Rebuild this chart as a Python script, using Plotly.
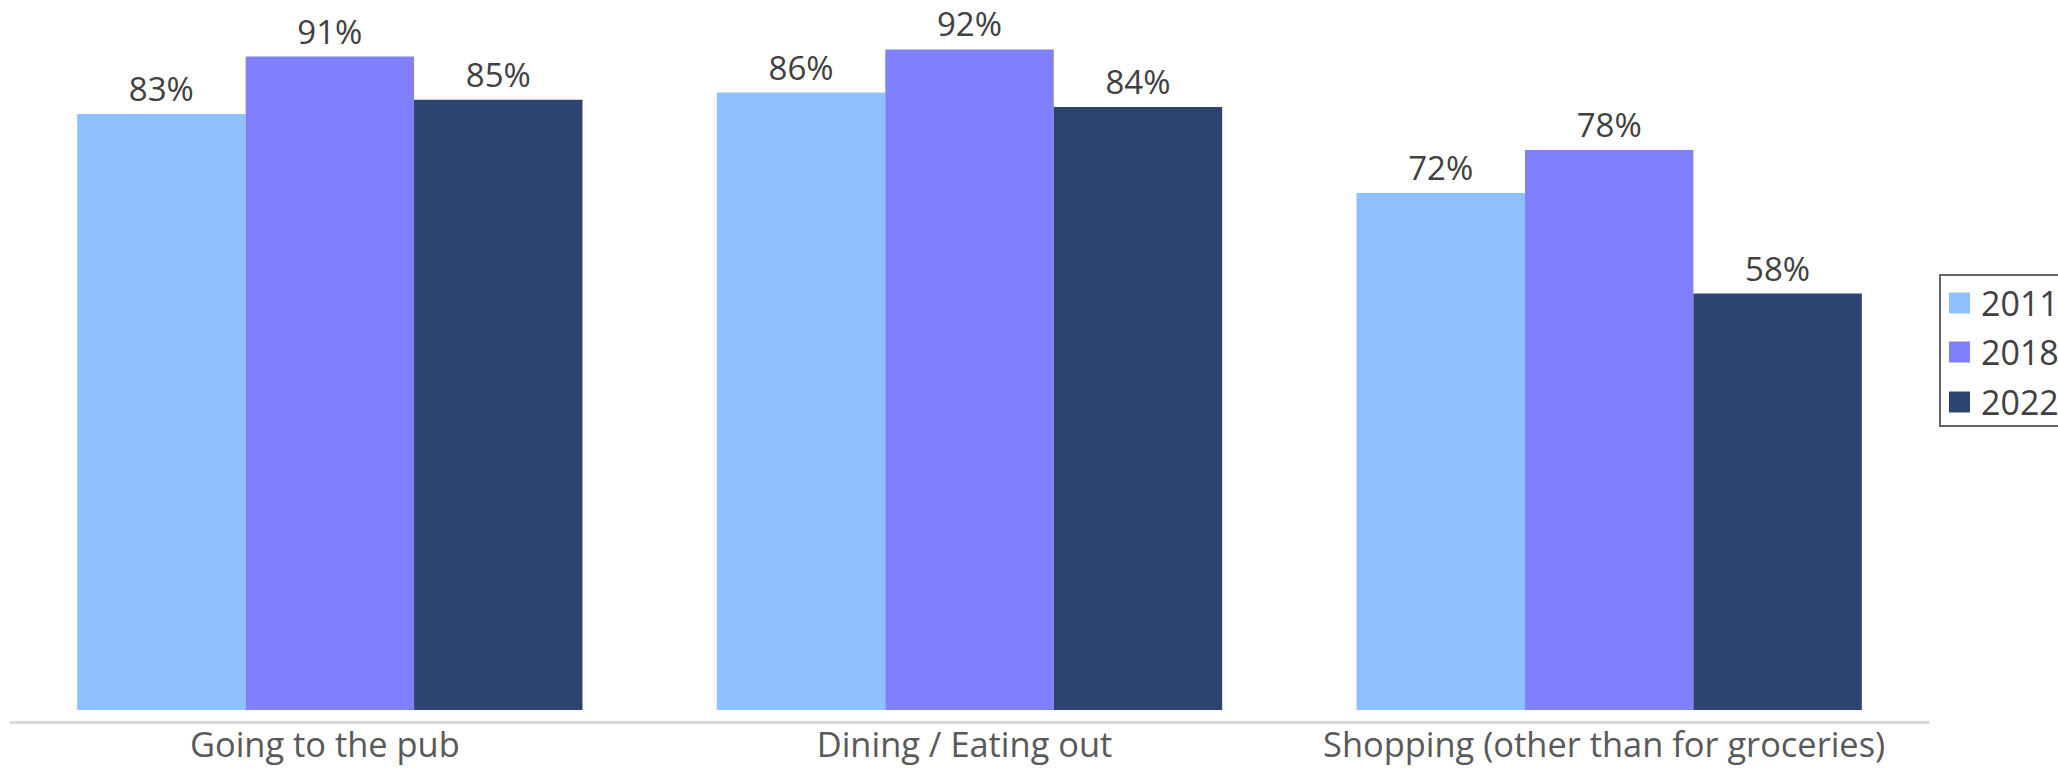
import plotly.graph_objects as go

# Share of respondents, by activity and survey year
categories = ["Going to the pub", "Dining / Eating out", "Shopping (other than for groceries)"]
years = ["2011", "2018", "2022"]
values_2011 = [83, 86, 72]
values_2018 = [91, 92, 78]
values_2022 = [85, 84, 58]

series = [values_2011, values_2018, values_2022]
colors = ["#8FC0FF", "#8080FF", "#2D4472"]

W, H = 2058, 768
FONT = "Open Sans"
PLOT_BOTTOM = 721          # pixel row of the plot-area bottom
ZERO_ROW = 710             # pixel row where the bars start
px_per_unit = 7.18

fig = go.Figure()
for year, vals, col in zip(years, series, colors):
    fig.add_trace(go.Bar(
        x=categories, y=vals, name=year,
        marker=dict(color=col, line=dict(width=0)),
        text=[f"{v}%" for v in vals],
        textposition="outside",
        constraintext="none",
        cliponaxis=False,
        textfont=dict(family=FONT, size=33, color="#404040"),
        showlegend=False,
        hoverinfo="x+y+name",
    ))

# Framed legend on the right, partly running past the edge
plot_w = W - 10 - 129
lx0, ly0, ly1 = 1940, 275, 426
row_y = [303, 352, 402]


def px_x(x):
    return (x - 10) / plot_w


def px_y(y):
    return (PLOT_BOTTOM - y) / PLOT_BOTTOM


shapes = [dict(type="rect", xref="paper", yref="paper",
               x0=px_x(lx0), x1=1.2, y0=px_y(ly1), y1=px_y(ly0),
               line=dict(color="#666666", width=2), fillcolor="rgba(0,0,0,0)")]
annotations = []
for year, col, cy in zip(years, colors, row_y):
    shapes.append(dict(type="rect", xref="paper", yref="paper",
                       x0=px_x(1949), x1=px_x(1970),
                       y0=px_y(cy + 10.5), y1=px_y(cy - 10.5),
                       line=dict(width=0), fillcolor=col))
    annotations.append(dict(text=year, xref="paper", yref="paper",
                            x=px_x(1979), y=px_y(cy),
                            xanchor="left", yanchor="middle", showarrow=False,
                            font=dict(family=FONT, size=34, color="#404040")))

fig.update_layout(
    width=W, height=H,
    margin=dict(l=10, r=129, t=0, b=H - PLOT_BOTTOM),
    paper_bgcolor="white", plot_bgcolor="white",
    barmode="group", bargap=0.21, bargroupgap=0,
    font=dict(family=FONT),
    xaxis=dict(showline=True, linecolor="#D9D9D9", linewidth=3,
               ticks="", showgrid=False, automargin=False,
               ticklabelstandoff=-8, ticklabelshift=-5,
               tickfont=dict(family=FONT, size=34.4, color="#595959")),
    yaxis=dict(range=[-(PLOT_BOTTOM - ZERO_ROW) / px_per_unit, ZERO_ROW / px_per_unit],
               visible=False, showgrid=False, zeroline=False, automargin=False),
    shapes=shapes,
    annotations=annotations,
)

fig.write_html("out.html")
